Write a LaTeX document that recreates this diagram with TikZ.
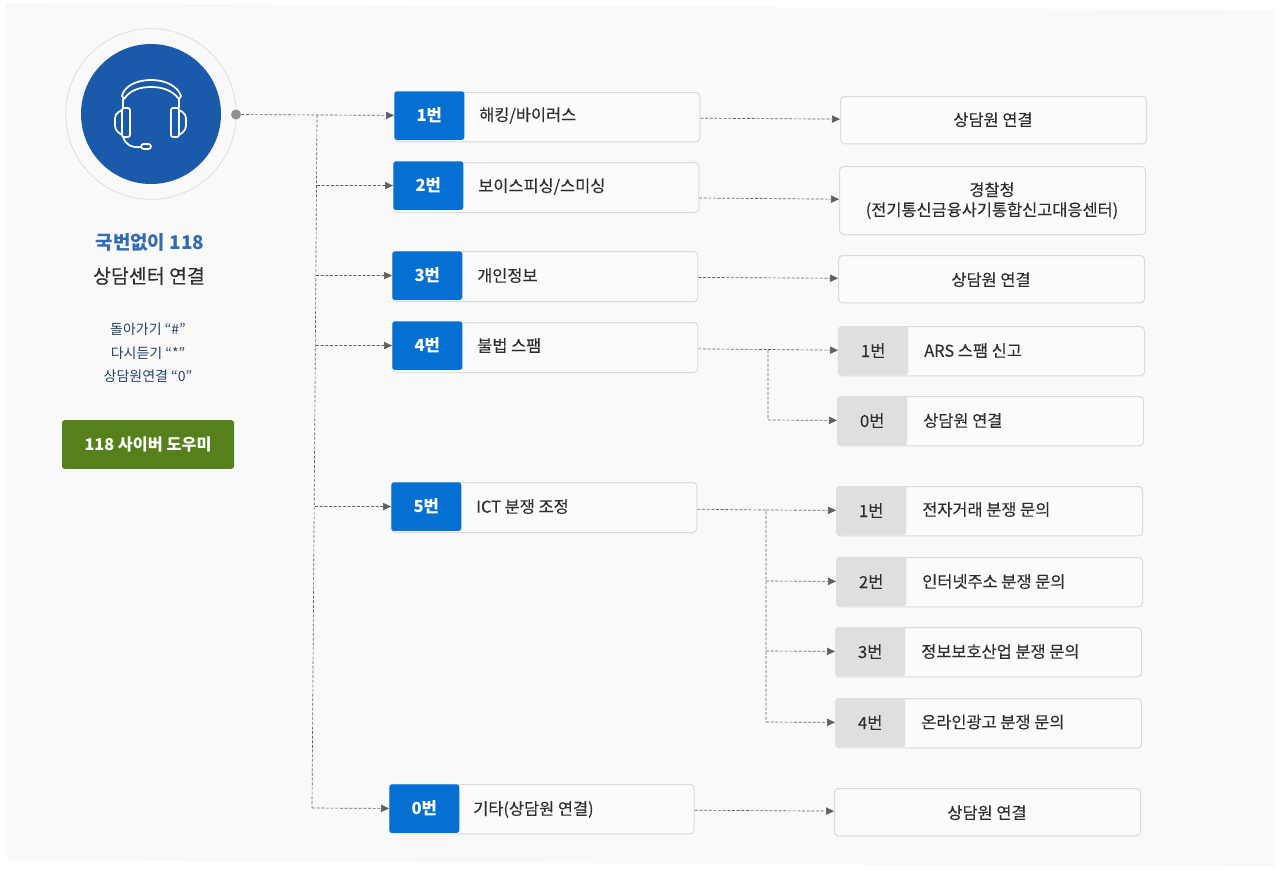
\documentclass[tikz,border=0pt]{standalone}
\usepackage{fontspec}
\setmainfont{Noto Sans CJK KR}
\newfontfamily\medfont[FakeBold=0.2]{Noto Sans CJK KR}
\usetikzlibrary{arrows.meta}
\definecolor{panelbg}{HTML}{F9F9F9}
\definecolor{navy}{HTML}{1B5AAA}
\definecolor{badgeblue}{HTML}{0570D2}
\definecolor{badgegray}{HTML}{DFDFDF}
\definecolor{helpgreen}{HTML}{55801B}
\definecolor{boxline}{HTML}{DADADA}
\definecolor{wire}{HTML}{606060}
\definecolor{inktext}{HTML}{2E2E2E}
\tikzset{
  rowbox/.style={draw=boxline,fill=white!40!panelbg,rounded corners=3,line width=0.75pt,inner sep=0,anchor=north west},
  badge/.style={fill=badgeblue,rounded corners=2,inner sep=0,anchor=north west,minimum width=52.5pt,minimum height=36.5pt,text=white,font=\fontsize{12.5}{14}\selectfont\bfseries},
  graybadge/.style={fill=badgegray,rounded corners=2,inner sep=0,anchor=north west,minimum width=52.5pt,minimum height=36.5pt,text=inktext,font=\medfont\fontsize{12.5}{14}\selectfont},
  label/.style={anchor=west,inner sep=0,yshift=-0.4pt,text=inktext,font=\medfont\fontsize{12.3}{14}\selectfont},
  centerlabel/.style={align=center,inner sep=0,yshift=-0.5pt,text=inktext,font=\medfont\fontsize{12.3}{15}\selectfont},
  wireline/.style={draw=wire,dashed,dash pattern=on 2.2pt off 1.3pt,line width=0.5pt},
  arrowline/.style={wireline,-{Triangle[length=6pt,width=5.5pt,fill=wire]}},
  headset/.style={draw=white,line width=1.3pt,line join=round}
}
\begin{document}
\begin{tikzpicture}[x=0.75pt,y=-0.75pt]
  \useasboundingbox (0,0) rectangle (1281,869);
  \fill[white] (0,0) rectangle (1281,869);
  \fill[panelbg] (6,3) -- (1274,10) -- (1274,867) -- (7,860) -- cycle;
  % circle with headset
  \node (ring) [circle,draw=boxline,line width=0.5pt,minimum size=128pt,inner sep=0] at (151,114) {};
  \node (disc) [circle,fill=navy,minimum size=105pt,inner sep=0] at (151,114) {};
  \draw[headset] (122,96) .. controls (124,87) and (135,80) .. (151,80) .. controls (167,80) and (178,87) .. (181,96) -- (179,99) .. controls (172,90) and (162,87) .. (151,87) .. controls (140,87) and (130,90) .. (124,99) -- cycle;
  \draw[headset] (123,99) -- (123,108);
  \draw[headset] (179,99) -- (179,108);
  \draw[headset,rounded corners=1.5] (122,108) rectangle (130,137);
  \draw[headset,rounded corners=1.5] (171,108) rectangle (179,137);
  \draw[headset,rounded corners=3] (122,110) -- (115,114) -- (115,130) -- (122,135);
  \draw[headset,rounded corners=3] (179,110) -- (186,114) -- (186,130) -- (179,135);
  \draw[headset] (123,137) .. controls (125,144) and (131,148) .. (141,147);
  \draw[headset,rounded corners=2] (141,144) rectangle (151,149);
  \node (dot) [circle,fill=wire!70,minimum size=7.5pt,inner sep=0] at (236,114.5) {};
  % left column
  \node (title) [text=navy!90,font=\fontsize{14.2}{16}\selectfont\bfseries,inner sep=0] at (150,242) {국번없이 118};
  \node (subtitle) [text=inktext,font=\medfont\fontsize{14.6}{16}\selectfont,inner sep=0] at (149,276) {상담센터 연결};
  \node (keys) [text=navy!45!inktext,align=center,inner sep=0,font=\fontsize{10.5}{17.5}\selectfont] at (148,353) {돌아가기 “\#”\\다시듣기 “*”\\상담원연결 “0”};
  \node (help) [fill=helpgreen,rounded corners=2,text=white,inner sep=0,minimum width=129pt,minimum height=36.5pt,font=\fontsize{12.2}{14}\selectfont\bfseries] at (148,444.5) {118 사이버 도우미};
  % middle rows
  \node (box1) [rowbox,minimum width=229pt,minimum height=37pt] at (394,92) {};
  \node (num1) [badge] at (394,91) {1번};
  \node (txt1) [label] at (479,115) {해킹/바이러스};
  \node (box2) [rowbox,minimum width=229pt,minimum height=37.5pt] at (393,162) {};
  \node (num2) [badge] at (393,161) {2번};
  \node (txt2) [label] at (478,186) {보이스피싱/스미싱};
  \node (box3) [rowbox,minimum width=229pt,minimum height=37.5pt] at (392,251) {};
  \node (num3) [badge] at (392,251) {3번};
  \node (txt3) [label] at (477,275) {개인정보};
  \node (box4) [rowbox,minimum width=229pt,minimum height=37.5pt] at (392,322) {};
  \node (num4) [badge] at (392,321) {4번};
  \node (txt4) [label] at (477,345) {불법 스팸};
  \node (box5) [rowbox,minimum width=229pt,minimum height=37.5pt] at (391,482) {};
  \node (num5) [badge] at (391,482) {5번};
  \node (txt5) [label] at (476,506) {ICT 분쟁 조정};
  \node (box0) [rowbox,minimum width=228.5pt,minimum height=37pt] at (389,784) {};
  \node (num0) [badge] at (389,784) {0번};
  \node (txt0) [label] at (473,809) {기타(상담원 연결)};
  % right rows
  \node (hack) [rowbox,minimum width=229.5pt,minimum height=35.5pt] at (840,96) {};
  \node (hacktxt) [centerlabel] at (993,119) {상담원 연결};
  \node (police) [rowbox,minimum width=229.5pt,minimum height=51pt] at (839,166) {};
  \node (policetxt) [centerlabel] at (992,200) {경찰청\\(전기통신금융사기통합신고대응센터)};
  \node (privacy) [rowbox,minimum width=229.5pt,minimum height=35.5pt] at (838,255) {};
  \node (privacytxt) [centerlabel] at (991,279) {상담원 연결};
  \node (spamA) [rowbox,minimum width=229.5pt,minimum height=37pt] at (838,326) {};
  \node (spamAnum) [graybadge] at (838,326) {1번};
  \node (spamAtxt) [label] at (924,350) {ARS 스팸 신고};
  \node (spamB) [rowbox,minimum width=229.5pt,minimum height=37pt] at (837,396) {};
  \node (spamBnum) [graybadge] at (837,396) {0번};
  \node (spamBtxt) [label] at (923,420) {상담원 연결};
  \node (ictA) [rowbox,minimum width=229.5pt,minimum height=37pt] at (836,486) {};
  \node (ictAnum) [graybadge] at (836,486) {1번};
  \node (ictAtxt) [label] at (922,509) {전자거래 분쟁 문의};
  \node (ictB) [rowbox,minimum width=229.5pt,minimum height=37pt] at (836,557) {};
  \node (ictBnum) [graybadge] at (836,557) {2번};
  \node (ictBtxt) [label] at (922,581) {인터넷주소 분쟁 문의};
  \node (ictC) [rowbox,minimum width=229.5pt,minimum height=37pt] at (835,627) {};
  \node (ictCnum) [graybadge] at (835,627) {3번};
  \node (ictCtxt) [label] at (921,651) {정보보호산업 분쟁 문의};
  \node (ictD) [rowbox,minimum width=229.5pt,minimum height=37pt] at (835,698) {};
  \node (ictDnum) [graybadge] at (835,698) {4번};
  \node (ictDtxt) [label] at (921,721.5) {온라인광고 분쟁 문의};
  \node (other) [rowbox,minimum width=229.5pt,minimum height=35.5pt] at (834,788) {};
  \node (othertxt) [centerlabel] at (987,812) {상담원 연결};
  % trunk junctions
  \coordinate (trunk1) at (317,115);
  \coordinate (trunk2) at (317,185.5);
  \coordinate (trunk3) at (316,275.5);
  \coordinate (trunk4) at (316,345.5);
  \coordinate (trunk5) at (315,506.5);
  \coordinate (trunk0) at (312,808);
  \draw[wireline] (trunk1) -- (trunk0);
  \draw[arrowline] (dot) -- (num1);
  \draw[arrowline] (trunk2) -- (num2);
  \draw[arrowline] (trunk3) -- (num3);
  \draw[arrowline] (trunk4) -- (num4);
  \draw[arrowline] (trunk5) -- (num5);
  \draw[arrowline] (trunk0) -- (num0);
  % right connectors
  \draw[arrowline] (box1) -- (hack);
  \coordinate (out2) at (699,198);
  \draw[arrowline] (out2) -- (police);
  \draw[arrowline] (box3) -- (privacy);
  \coordinate (fork4) at (768,349.5);
  \coordinate (turn4) at (768,420);
  \draw[wireline] (box4) -- (fork4) -- (turn4);
  \draw[arrowline] (fork4) -- (spamAnum);
  \draw[arrowline] (turn4) -- (spamBnum);
  \coordinate (fork5) at (766,510);
  \coordinate (turn5b) at (766,581);
  \coordinate (turn5c) at (766,651);
  \coordinate (turn5d) at (766,722);
  \draw[wireline] (box5) -- (fork5) -- (turn5d);
  \draw[arrowline] (fork5) -- (ictAnum);
  \draw[arrowline] (turn5b) -- (ictBnum);
  \draw[arrowline] (turn5c) -- (ictCnum);
  \draw[arrowline] (turn5d) -- (ictDnum);
  \draw[arrowline] (box0) -- (other);
\end{tikzpicture}
\end{document}
